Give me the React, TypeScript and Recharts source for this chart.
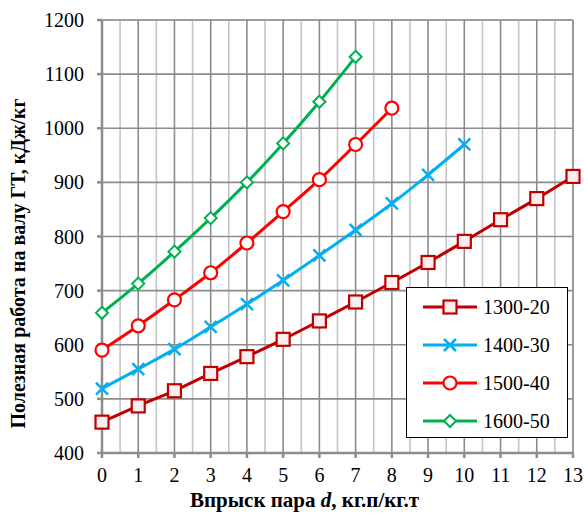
import React from 'react'
import { CartesianGrid, Legend, Line, LineChart, XAxis, YAxis } from 'recharts'

// впрыск пара d, кг.п/кг.т
const D_VALUES = [0, 1, 2, 3, 4, 5, 6, 7, 8, 9, 10, 11, 12, 13]

// полезная работа, кДж/кг
const S_1300_20 = [457, 487, 515, 547, 578, 610, 644, 679, 715, 752, 791, 831, 870, 911]
const S_1400_30 = [519, 555, 592, 633, 675, 719, 765, 812, 861, 914, 970]
const S_1500_40 = [590, 635, 683, 733, 788, 846, 905, 970, 1037]
const S_1600_50 = [659, 713, 772, 834, 900, 972, 1049, 1132]

const X_TICKS = D_VALUES
const Y_TICKS = [400, 500, 600, 700, 800, 900, 1000, 1100, 1200]
const X_MINOR = [0.5, 1.5, 2.5, 3.5, 4.5, 5.5, 6.5, 7.5, 8.5, 9.5, 10.5, 11.5, 12.5]
const Y_MINOR = [450, 550, 650, 750, 850, 950, 1050, 1150]

const SERIES = [
  { key: 's1300', name: '1300-20', color: '#C00000', marker: 'square' },
  { key: 's1400', name: '1400-30', color: '#00B0F0', marker: 'cross' },
  { key: 's1500', name: '1500-40', color: '#FF0000', marker: 'circle' },
  { key: 's1600', name: '1600-50', color: '#00B050', marker: 'diamond' },
]

const data = D_VALUES.map((d, i) => ({
  d,
  s1300: S_1300_20[i],
  s1400: S_1400_30[i],
  s1500: S_1500_40[i],
  s1600: S_1600_50[i],
}))

const FONT = '"Liberation Serif", "Times New Roman", serif'
const MAJOR = '#8c8c8c'
const MINOR = '#c6c6c6'

function Marker({ type, cx, cy, color }: { type: string; cx: number; cy: number; color: string }) {
  if (type === 'square') {
    return <rect x={cx - 6.5} y={cy - 6.5} width={13} height={13} fill="#fbeeee" stroke={color} strokeWidth={2.2} />
  }
  if (type === 'cross') {
    return (
      <path
        d={`M${cx - 6},${cy - 6}L${cx + 6},${cy + 6}M${cx - 6},${cy + 6}L${cx + 6},${cy - 6}`}
        stroke={color}
        strokeWidth={2.5}
        fill="none"
      />
    )
  }
  if (type === 'circle') {
    return <circle cx={cx} cy={cy} r={6.5} fill="#ffffff" stroke={color} strokeWidth={2.2} />
  }
  return (
    <path
      d={`M${cx},${cy - 6}L${cx + 6},${cy}L${cx},${cy + 6}L${cx - 6},${cy}Z`}
      fill="#ffffff"
      stroke={color}
      strokeWidth={2}
    />
  )
}

function makeDot(type: string, color: string) {
  return (props: any) => {
    const { cx, cy, index } = props
    if (cx == null || cy == null || Number.isNaN(cy)) return <g key={`e-${index}`} />
    return <Marker key={`m-${index}`} type={type} cx={cx} cy={cy} color={color} />
  }
}

function LegendBox() {
  return (
    <div
      style={{
        width: 162,
        height: 151,
        border: '1px solid #000',
        background: '#fff',
        boxSizing: 'border-box',
        paddingTop: 0,
      }}
    >
      {SERIES.map((s) => (
        <div key={s.key} style={{ display: 'flex', alignItems: 'center', height: 38 }}>
          <svg width={76} height={20} style={{ display: 'block', flex: 'none' }}>
            <line x1={16} y1={10} x2={70} y2={10} stroke={s.color} strokeWidth={3} />
            <Marker type={s.marker} cx={43} cy={10} color={s.color} />
          </svg>
          <span style={{ fontFamily: FONT, fontSize: 20, color: '#000', lineHeight: '20px', whiteSpace: 'nowrap' }}>
            {s.name}
          </span>
        </div>
      ))}
    </div>
  )
}

function XTitle(props: any) {
  const { viewBox } = props
  const cx = viewBox.x + viewBox.width / 2 - 33
  return (
    <text x={cx} y={viewBox.y + 54} textAnchor="middle" fontFamily={FONT} fontSize={21} fontWeight="bold" fill="#000">
      Впрыск пара <tspan fontStyle="italic">d</tspan>, кг.п/кг.т
    </text>
  )
}

function YTitle(props: any) {
  const { viewBox } = props
  const cx = 25
  const cy = viewBox.y + viewBox.height / 2 + 27
  return (
    <text
      x={cx}
      y={cy}
      transform={`rotate(-90 ${cx} ${cy})`}
      textAnchor="middle"
      fontFamily={FONT}
      fontSize={20}
      fontWeight="bold"
      fill="#000"
    >
      Полезная работа на валу ГТ, кДж/кг
    </text>
  )
}

export default function App() {
  const tick = { fontFamily: FONT, fontSize: 20, fill: '#000' }
  return (
    <div style={{ position: 'fixed', left: 0, top: 0, width: 584, height: 515, background: '#fff' }}>
      <LineChart width={584} height={515} data={data} margin={{ top: 20, right: 11, bottom: 0, left: 0 }}>
        <XAxis xAxisId="minor" dataKey="d" type="number" domain={[0, 13]} ticks={X_MINOR} hide />
        <YAxis yAxisId="minor" type="number" domain={[400, 1200]} ticks={Y_MINOR} hide />
        <CartesianGrid xAxisId="minor" yAxisId="minor" stroke={MINOR} strokeWidth={1.6} />
        <CartesianGrid stroke={MAJOR} strokeWidth={1.6} />
        <XAxis
          dataKey="d"
          type="number"
          domain={[0, 13]}
          ticks={X_TICKS}
          interval={0}
          allowDecimals={false}
          height={62}
          stroke={MAJOR}
          strokeWidth={2.5}
          tickSize={5}
          tickMargin={10}
          tick={tick}
          label={<XTitle />}
        />
        <YAxis
          type="number"
          domain={[400, 1200]}
          ticks={Y_TICKS}
          interval={0}
          width={102}
          stroke={MAJOR}
          strokeWidth={2.5}
          tickSize={5}
          tickMargin={13}
          tick={tick}
          label={<YTitle />}
        />
        <Legend
          layout="vertical"
          align="center"
          verticalAlign="middle"
          content={() => <LegendBox />}
          wrapperStyle={{ left: 406, top: 287, width: 162, height: 151 }}
        />
        {SERIES.map((s) => (
          <Line
            key={s.key}
            dataKey={s.key}
            name={s.name}
            type="monotone"
            stroke={s.color}
            strokeWidth={3}
            dot={makeDot(s.marker, s.color)}
            activeDot={false}
            isAnimationActive={false}
          />
        ))}
      </LineChart>
    </div>
  )
}
